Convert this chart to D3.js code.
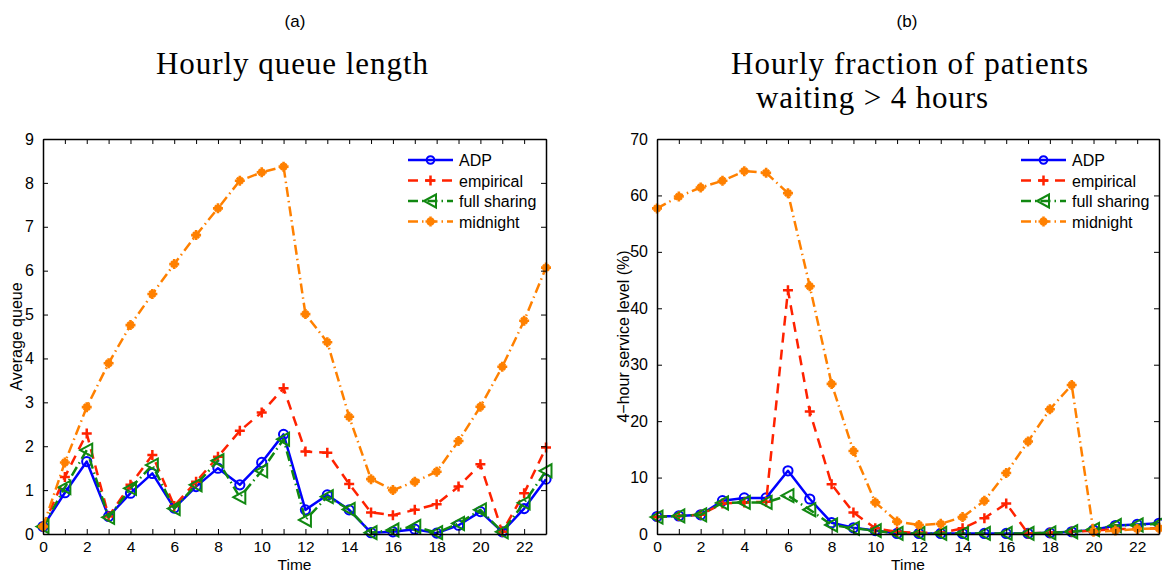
<!DOCTYPE html>
<html><head><meta charset="utf-8">
<script src="https://cdn.jsdelivr.net/npm/d3@7"></script>
<style>
html,body{margin:0;padding:0;background:#fff;}
svg{display:block;}
text{font-family:"Liberation Sans",Arial,Helvetica,sans-serif;fill:#000;}
.serif{font-family:"Liberation Serif","Times New Roman",serif;}
</style></head>
<body>
<svg id="chart" width="1162" height="573"></svg>
<script>
// ---------- DATA ----------
const hours = d3.range(0, 24);
const seriesNames = ["ADP", "empirical", "full sharing", "midnight"];

// Panel (a): hourly average queue length
const queueADP       = [0.17,0.94,1.65,0.40,0.93,1.38,0.59,1.08,1.50,1.12,1.63,2.27,0.55,0.89,0.55,0.03,0.05,0.11,0.02,0.20,0.51,0.05,0.58,1.25];
const queueEmpirical = [0.17,1.30,2.29,0.40,1.12,1.80,0.64,1.19,1.76,2.35,2.77,3.32,1.88,1.85,1.14,0.49,0.43,0.55,0.68,1.08,1.59,0.05,0.93,1.97];
const queueFull      = [0.17,1.06,1.91,0.38,1.04,1.57,0.58,1.12,1.67,0.84,1.44,2.16,0.32,0.85,0.56,0.03,0.09,0.17,0.03,0.24,0.55,0.05,0.71,1.44];
const queueMidnight  = [0.17,1.63,2.89,3.89,4.76,5.47,6.15,6.81,7.42,8.05,8.24,8.37,5.01,4.37,2.67,1.25,1.00,1.19,1.42,2.12,2.90,3.81,4.86,6.07];

// Panel (b): hourly fraction waiting > 4 hours (%)
const waitADP        = [3.1,3.2,3.4,5.9,6.4,6.4,11.2,6.2,2.0,1.1,0.6,0.1,0.1,0.1,0.1,0.1,0.1,0.1,0.2,0.4,0.7,1.5,1.7,1.9];
const waitEmpirical  = [3.0,3.2,3.4,5.4,5.6,5.7,43.2,21.7,8.8,3.8,1.0,0.4,0.2,0.2,1.0,2.8,5.4,0.1,0.2,0.4,0.6,0.9,0.9,1.0];
const waitFull       = [3.0,3.2,3.4,5.5,5.6,5.6,6.8,4.3,1.6,1.0,0.6,0.1,0.1,0.1,0.1,0.1,0.1,0.1,0.2,0.4,0.8,1.5,1.6,1.8];
const waitMidnight   = [57.7,59.8,61.4,62.6,64.3,64.0,60.4,43.9,26.6,14.7,5.6,2.2,1.6,1.8,3.0,5.9,10.8,16.4,22.1,26.4,0.4,0.6,0.9,1.0];

const xTicks = d3.range(0, 24);
const yTicksA = d3.range(0, 10);
const yTicksB = d3.range(0, 80, 10);

// ---------- STYLE ----------
const styles = [
  {color:"#0000ff", dash:null,               marker:"circle"},
  {color:"#ff2200", dash:"10,7",             marker:"plus"},
  {color:"#118811", dash:"10,4,1.5,4",       marker:"tri"},
  {color:"#ff8000", dash:"10,4,1.5,4",       marker:"star"}
];

const svg = d3.select("#chart");

function drawMarker(g, type, color, x, y){
  if(type==="circle"){
    g.append("circle").attr("cx",x).attr("cy",y).attr("r",4.6)
      .attr("fill","none").attr("stroke",color).attr("stroke-width",2);
  } else if(type==="plus"){
    g.append("path").attr("d",`M${x-5},${y}H${x+5}M${x},${y-5}V${y+5}`)
      .attr("stroke",color).attr("stroke-width",2.5).attr("fill","none");
  } else if(type==="tri"){
    g.append("path").attr("d",`M${x-6.5},${y}L${x+5.5},${y-6.5}L${x+5.5},${y+6.5}Z`)
      .attr("stroke",color).attr("stroke-width",2).attr("fill","none");
  } else if(type==="star"){
    g.append("path").attr("d",`M${x-5},${y}H${x+5}M${x},${y-5}V${y+5}M${x-3},${y-3}L${x+3},${y+3}M${x-3},${y+3}L${x+3},${y-3}`)
      .attr("stroke",color).attr("stroke-width",2.6).attr("fill","none");
  }
}

function panel(opts){
  const {x0,x1,y0,y1,yMax,yTicks,series,ylabel,legX,ylabOff} = opts;
  const x = d3.scaleLinear().domain([0,23]).range([x0,x1]);
  const y = d3.scaleLinear().domain([0,yMax]).range([y1,y0]);
  const g = svg.append("g");

  // lines
  const line = d3.line().x((d,i)=>x(hours[i])).y(d=>y(d));
  series.forEach((vals,k)=>{
    const st = styles[k];
    g.append("path").datum(vals).attr("d",line)
      .attr("fill","none").attr("stroke",st.color).attr("stroke-width",2.5)
      .attr("stroke-dasharray",st.dash).attr("stroke-linejoin","round");
    const mg = g.append("g");
    vals.forEach((v,i)=>drawMarker(mg, st.marker, st.color, x(hours[i]), y(v)));
  });

  // axes (inward ticks, box)
  const fmtX = d => (d%2===0 ? String(d) : "");
  g.append("g").attr("transform",`translate(0,${y1})`)
    .call(d3.axisBottom(x).tickValues(xTicks).tickFormat(fmtX).tickSizeInner(-5).tickSizeOuter(0).tickPadding(7))
    .call(a=>{a.selectAll("text").attr("font-size",15.5).attr("font-family","Liberation Sans, Arial, sans-serif");});
  g.append("g").attr("transform",`translate(0,${y0})`)
    .call(d3.axisTop(x).tickValues(xTicks).tickFormat("").tickSizeInner(-5).tickSizeOuter(0));
  g.append("g").attr("transform",`translate(${x0},0)`)
    .call(d3.axisLeft(y).tickValues(yTicks).tickFormat(d3.format("d")).tickSizeInner(-5).tickSizeOuter(0).tickPadding(9))
    .call(a=>{a.selectAll("text").attr("font-size",16).attr("font-family","Liberation Sans, Arial, sans-serif");});
  g.append("g").attr("transform",`translate(${x1},0)`)
    .call(d3.axisRight(y).tickValues(yTicks).tickFormat("").tickSizeInner(-5).tickSizeOuter(0));
  g.selectAll(".domain").attr("stroke","#000").attr("stroke-width",1.5);
  g.selectAll(".tick line").attr("stroke","#000").attr("stroke-width",1);

  // axis labels
  g.append("text").attr("x",(x0+x1)/2).attr("y",569.5).attr("text-anchor","middle")
    .attr("font-size",15.5).text("Time");
  g.append("text").attr("transform",`translate(${x0-ylabOff},${(y0+y1)/2}) rotate(-90)`)
    .attr("text-anchor","middle").attr("font-size",16).text(ylabel);

  // legend
  const lg = g.append("g");
  seriesNames.forEach((name,k)=>{
    const st = styles[k];
    const ly = 160 + k*20.5;
    lg.append("line").attr("x1",legX).attr("x2",legX+45).attr("y1",ly).attr("y2",ly)
      .attr("stroke",st.color).attr("stroke-width",2.5).attr("stroke-dasharray",st.dash);
    const mg = lg.append("g");
    const mk = st.marker;
    if(mk==="circle"){
      mg.append("circle").attr("cx",legX+22.5).attr("cy",ly).attr("r",3.8)
        .attr("fill","none").attr("stroke",st.color).attr("stroke-width",2);
    } else {
      drawMarker(mg, mk, st.color, legX+22.5, ly);
    }
    lg.append("text").attr("x",legX+51).attr("y",ly+6).attr("font-size",16).text(name);
  });
}

panel({x0:43,x1:546,y0:139,y1:534,yMax:9,yTicks:yTicksA,
  series:[queueADP,queueEmpirical,queueFull,queueMidnight],
  ylabel:"Average queue", legX:408, ylabOff:21});
panel({x0:657,x1:1159,y0:139,y1:534,yMax:70,yTicks:yTicksB,
  series:[waitADP,waitEmpirical,waitFull,waitMidnight],
  ylabel:"4\u2212hour service level (%)", legX:1021, ylabOff:28});

// titles
svg.append("text").attr("x",295).attr("y",27).attr("text-anchor","middle").attr("font-size",17).text("(a)");
svg.append("text").attr("x",907).attr("y",27).attr("text-anchor","middle").attr("font-size",17).text("(b)");
svg.append("text").attr("class","serif").attr("x",156).attr("y",74).attr("font-size",31)
  .attr("textLength",272).attr("lengthAdjust","spacing").text("Hourly queue length");
svg.append("text").attr("class","serif").attr("x",731).attr("y",74).attr("font-size",31)
  .attr("textLength",357).attr("lengthAdjust","spacing").text("Hourly fraction of patients");
svg.append("text").attr("class","serif").attr("x",756).attr("y",108).attr("font-size",31)
  .attr("textLength",232).attr("lengthAdjust","spacing").text("waiting > 4 hours");
</script>
</body></html>
